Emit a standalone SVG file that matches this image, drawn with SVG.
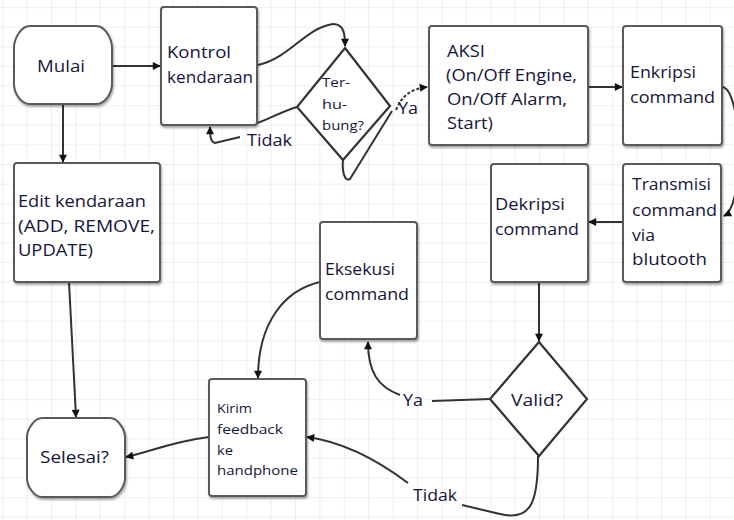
<svg xmlns="http://www.w3.org/2000/svg" width="734" height="520" viewBox="0 0 734 520">
<defs>
<pattern id="grid" x="2.2" y="7.2" width="24.4" height="19.6" patternUnits="userSpaceOnUse">
<path d="M0,0 V19.6 M0,0 H24.4" fill="none" stroke="#ebebeb" stroke-width="1.6"/>
</pattern>
<marker id="arr" viewBox="0 0 10 10" refX="9" refY="5" markerWidth="9" markerHeight="8" markerUnits="userSpaceOnUse" orient="auto">
<path d="M0,0 L10,5 L0,10 z" fill="#111"/>
</marker>
<filter id="sh" x="-10%" y="-10%" width="130%" height="130%">
<feDropShadow dx="1" dy="2" stdDeviation="0.8" flood-color="#000" flood-opacity="0.35"/>
</filter>
</defs>
<style>
.box{fill:#fff;stroke:#5a5a5a;stroke-width:2;filter:url(#sh)}
.dia{fill:#fff;stroke:#333;stroke-width:2.2}
.t{font-family:"Open Sans","DejaVu Sans",sans-serif;font-size:17px;fill:#15153a}
.s{font-size:13.5px}
.c{fill:none;stroke:#333;stroke-width:2}
.a{marker-end:url(#arr)}
</style>
<rect width="734" height="520" fill="#fff"/>
<rect width="734" height="520" fill="url(#grid)"/>

<g id="connectors">
<path class="c a" d="M112,66 H160"/>
<path class="c a" d="M63,104 V162"/>
<path class="c a" d="M258,65 C290,58 305,28 333,24 C344,24 345,34 345,46"/>
<path class="c" d="M297,107 C280,112 268,120 252,125"/>
<path class="c a" d="M240,137 L215,143 C211,142 210,138 210,127"/>
<path class="c" d="M343,160 C342,170 344,182 350,179 L392,111"/>
<path class="c a" stroke-dasharray="3,2" d="M396,110 C402,96 410,89 427,87"/>
<path class="c a" d="M588,87 H622"/>
<path class="c a" d="M722,87 C742,88 746,205 724,216"/>
<path class="c a" d="M623,222 H589"/>
<path class="c a" d="M539,282 V341"/>
<path class="c" d="M490,399 L432,401"/>
<path class="c a" d="M400,395 C378,387 368,372 368,342"/>
<path class="c a" d="M320,282 C285,290 258,322 258,378"/>
<path class="c" d="M538,456 C538,500 532,522 500,514 L462,505"/>
<path class="c a" d="M408,483 C380,462 345,442 307,437"/>
<path class="c a" d="M209,437 C170,442 150,452 126,457"/>
<path class="c a" d="M69,282 L76,417"/>
</g>

<g id="mulai">
<path class="box" d="M30,26 H96 C106,26 112,40 112,48 V84 C112,92 106,104 96,104 H30 C20,104 14,92 14,84 V48 C14,40 20,26 30,26 z"/>
<text class="t" x="37" y="72" textLength="48" lengthAdjust="spacingAndGlyphs">Mulai</text>
</g>

<g id="kontrol">
<rect class="box" x="161" y="7" width="96" height="118" rx="3"/>
<text class="t" x="167" y="58" textLength="64" lengthAdjust="spacingAndGlyphs">Kontrol</text>
<text class="t" x="167" y="83" textLength="86" lengthAdjust="spacingAndGlyphs">kendaraan</text>
</g>

<g id="terhubung">
<path class="dia" d="M345,48 L390,106 L343,160 L297,107 z"/>
<text class="t s" x="322" y="87" textLength="28" lengthAdjust="spacingAndGlyphs">Ter-</text>
<text class="t s" x="322" y="109" textLength="25" lengthAdjust="spacingAndGlyphs">hu-</text>
<text class="t s" x="322" y="130" textLength="42" lengthAdjust="spacingAndGlyphs">bung?</text>
</g>

<g id="aksi">
<rect class="box" x="429" y="26" width="159" height="119" rx="3"/>
<text class="t" x="447" y="57" textLength="38" lengthAdjust="spacingAndGlyphs">AKSI</text>
<text class="t" x="446" y="81" textLength="131" lengthAdjust="spacingAndGlyphs">(On/Off Engine,</text>
<text class="t" x="447" y="105" textLength="120" lengthAdjust="spacingAndGlyphs">On/Off Alarm,</text>
<text class="t" x="447" y="129" textLength="46" lengthAdjust="spacingAndGlyphs">Start)</text>
</g>

<g id="enkripsi">
<rect class="box" x="623" y="26" width="99" height="119" rx="3"/>
<text class="t" x="630" y="78" textLength="66" lengthAdjust="spacingAndGlyphs">Enkripsi</text>
<text class="t" x="630" y="103" textLength="85" lengthAdjust="spacingAndGlyphs">command</text>
</g>

<g id="transmisi">
<rect class="box" x="623" y="164" width="98" height="118" rx="3"/>
<text class="t" x="632" y="190" textLength="79" lengthAdjust="spacingAndGlyphs">Transmisi</text>
<text class="t" x="632" y="216" textLength="85" lengthAdjust="spacingAndGlyphs">command</text>
<text class="t" x="632" y="241" textLength="23" lengthAdjust="spacingAndGlyphs">via</text>
<text class="t" x="632" y="265" textLength="75" lengthAdjust="spacingAndGlyphs">blutooth</text>
</g>

<g id="dekripsi">
<rect class="box" x="491" y="164" width="97" height="118" rx="3"/>
<text class="t" x="495" y="210" textLength="70" lengthAdjust="spacingAndGlyphs">Dekripsi</text>
<text class="t" x="495" y="235" textLength="84" lengthAdjust="spacingAndGlyphs">command</text>
</g>

<g id="valid">
<path class="dia" d="M539,342 L587,399 L539,456 L490,399 z"/>
<text class="t" x="511" y="406" textLength="52" lengthAdjust="spacingAndGlyphs">Valid?</text>
</g>

<g id="edit">
<rect class="box" x="14" y="163" width="146" height="119" rx="3"/>
<text class="t" x="18" y="207" textLength="128" lengthAdjust="spacingAndGlyphs">Edit kendaraan</text>
<text class="t" x="18" y="232" textLength="137" lengthAdjust="spacingAndGlyphs">(ADD, REMOVE,</text>
<text class="t" x="18" y="256" textLength="75" lengthAdjust="spacingAndGlyphs">UPDATE)</text>
</g>

<g id="eksekusi">
<rect class="box" x="320" y="222" width="97" height="117" rx="3"/>
<text class="t" x="325" y="275" textLength="70" lengthAdjust="spacingAndGlyphs">Eksekusi</text>
<text class="t" x="325" y="300" textLength="84" lengthAdjust="spacingAndGlyphs">command</text>
</g>

<g id="kirim">
<rect class="box" x="209" y="379" width="97" height="117" rx="3"/>
<text class="t s" x="217" y="413" textLength="35" lengthAdjust="spacingAndGlyphs">Kirim</text>
<text class="t s" x="217" y="434" textLength="66" lengthAdjust="spacingAndGlyphs">feedback</text>
<text class="t s" x="217" y="455" textLength="16" lengthAdjust="spacingAndGlyphs">ke</text>
<text class="t s" x="217" y="475" textLength="81" lengthAdjust="spacingAndGlyphs">handphone</text>
</g>

<g id="selesai">
<path class="box" d="M42,418 H110 C118,418 125,430 125,437 V478 C125,486 118,497 110,497 H42 C34,497 27,486 27,478 V437 C27,430 34,418 42,418 z"/>
<text class="t" x="40" y="463" textLength="69" lengthAdjust="spacingAndGlyphs">Selesai?</text>
</g>

<g id="labels">
<text class="t" x="247" y="146" textLength="45" lengthAdjust="spacingAndGlyphs">Tidak</text>
<text class="t" x="398" y="114" textLength="20" lengthAdjust="spacingAndGlyphs">Ya</text>
<text class="t" x="403" y="406" textLength="20" lengthAdjust="spacingAndGlyphs">Ya</text>
<text class="t" x="413" y="501" textLength="44" lengthAdjust="spacingAndGlyphs">Tidak</text>
</g>
</svg>
